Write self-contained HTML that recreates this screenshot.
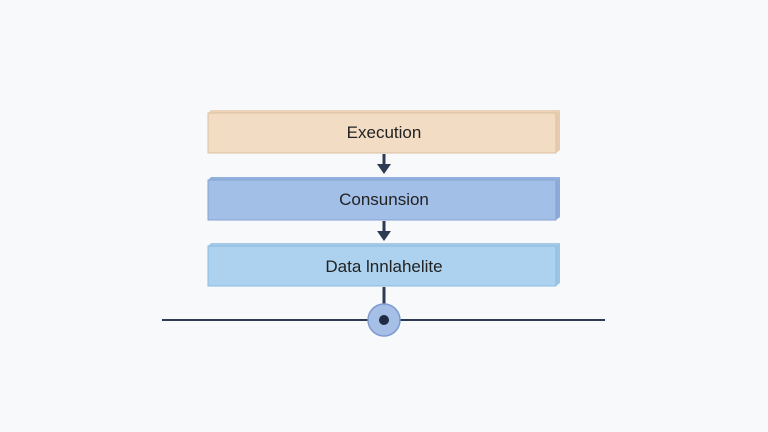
<!DOCTYPE html><html><head><style>body{margin:0;background:#f7f9fa;}svg{display:block}</style></head><body>
<svg width="768" height="432" font-family="Liberation Sans, sans-serif">
<rect width="768" height="432" fill="#f7f9fa"/>
<g>
<polygon points="208,113 211,110 560,110 556,113" fill="#ecd3b8"/>
<polygon points="556,113 560,110 560,150 556,153" fill="#e6cbb0"/>
<rect x="208" y="113" width="348" height="40" fill="#f2dcc4" stroke="#dcc0a2"/>
<text x="384" y="138" text-anchor="middle" font-size="17" fill="#222">Execution</text>
<polygon points="208,180 211,177 560,177 556,180" fill="#92b0de"/>
<polygon points="556,180 560,177 560,217 556,220" fill="#8eaad8"/>
<rect x="208" y="180" width="348" height="40" fill="#a2bfe8" stroke="#86a3d3"/>
<text x="384" y="205" text-anchor="middle" font-size="17" fill="#222">Consunsion</text>
<polygon points="208,246 211,243 560,243 556,246" fill="#a4cae8"/>
<polygon points="556,246 560,243 560,283 556,286" fill="#9cc4e4"/>
<rect x="208" y="246" width="348" height="40" fill="#acd2ef" stroke="#8dbbe0"/>
<text x="384" y="272" text-anchor="middle" font-size="17" fill="#222">Data lnnlahelite</text>
</g>
<g fill="#2f3a55" stroke="#2f3a55">
<line x1="384" y1="154" x2="384" y2="166" stroke-width="3"/>
<polygon points="377,164 391,164 384,174" stroke="none"/>
<line x1="384" y1="221" x2="384" y2="233" stroke-width="3"/>
<polygon points="377,231 391,231 384,241" stroke="none"/>
<line x1="384" y1="287" x2="384" y2="306" stroke-width="3"/>
<line x1="162" y1="320" x2="605" y2="320" stroke-width="2"/>
</g>
<circle cx="384" cy="320" r="16" fill="#a6bfe6" stroke="#7e9ace" stroke-width="1.5"/>
<circle cx="384" cy="320" r="5" fill="#1f2a44"/>
</svg>
</body></html>
